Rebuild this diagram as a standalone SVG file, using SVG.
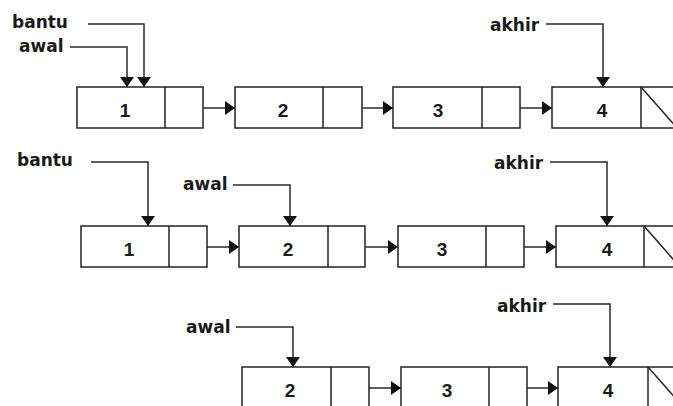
<svg xmlns="http://www.w3.org/2000/svg" width="673" height="406" viewBox="0 0 673 406">
  <style>
    .box { fill: #ffffff; stroke: #222222; stroke-width: 1.5; }
    .div { stroke: #222222; stroke-width: 1.5; fill: none; }
    .link { stroke: #2a2a2a; stroke-width: 1.5; fill: none; marker-end: url(#head); }
    .ptr { stroke: #2a2a2a; stroke-width: 1.5; fill: none; marker-end: url(#head); }
    .num { font-family: "Liberation Sans", Arial, sans-serif; font-weight: bold; font-size: 19px; fill: #1a1a1a; text-anchor: middle; }
    .lbl { font-family: "DejaVu Sans", Verdana, sans-serif; font-weight: bold; font-size: 17px; fill: #1a1a1a; }
  </style>
  <defs>
    <marker id="head" markerWidth="10" markerHeight="14" refX="10" refY="7" orient="auto" markerUnits="userSpaceOnUse">
      <path d="M0,0 L10,7 L0,14 Z" fill="#111111"/>
    </marker>
  </defs>
  <rect width="673" height="406" fill="#ffffff"/>

  <!-- row 1: bantu and awal both on node 1 -->
  <g id="r1-n1"><rect class="box" x="77" y="87" width="126" height="41"/><line class="div" x1="165" y1="87" x2="165" y2="128"/><text class="num" x="125" y="117">1</text></g>
  <g id="r1-n2"><rect class="box" x="235" y="87" width="127" height="41"/><line class="div" x1="323" y1="87" x2="323" y2="128"/><text class="num" x="283" y="117">2</text></g>
  <g id="r1-n3"><rect class="box" x="393" y="87" width="127" height="41"/><line class="div" x1="482" y1="87" x2="482" y2="128"/><text class="num" x="438" y="117">3</text></g>
  <g id="r1-n4"><rect class="box" x="552" y="87" width="127" height="41"/><line class="div" x1="641" y1="87" x2="641" y2="128"/><line class="div" x1="641" y1="87" x2="677" y2="128"/><text class="num" x="602" y="117">4</text></g>
  <g id="r1-labels">
    <text class="lbl" x="12" y="28">bantu</text>
    <text class="lbl" x="19" y="52">awal</text>
    <text class="lbl" x="490" y="31">akhir</text>
  </g>

  <!-- row 2: awal moved to node 2 -->
  <g id="r2-n1"><rect class="box" x="81" y="226" width="126" height="41"/><line class="div" x1="169" y1="226" x2="169" y2="267"/><text class="num" x="129" y="256">1</text></g>
  <g id="r2-n2"><rect class="box" x="239" y="226" width="126" height="41"/><line class="div" x1="328" y1="226" x2="328" y2="267"/><text class="num" x="288" y="256">2</text></g>
  <g id="r2-n3"><rect class="box" x="398" y="226" width="126" height="41"/><line class="div" x1="486" y1="226" x2="486" y2="267"/><text class="num" x="442" y="256">3</text></g>
  <g id="r2-n4"><rect class="box" x="556" y="226" width="127" height="41"/><line class="div" x1="644" y1="226" x2="644" y2="267"/><line class="div" x1="644" y1="226" x2="680" y2="267"/><text class="num" x="607" y="256">4</text></g>
  <g id="r2-labels">
    <text class="lbl" x="17" y="166">bantu</text>
    <text class="lbl" x="183" y="190">awal</text>
    <text class="lbl" x="494" y="169">akhir</text>
  </g>

  <!-- row 3: node 1 removed -->
  <g id="r3-n2"><rect class="box" x="242" y="367" width="127" height="41"/><line class="div" x1="331" y1="367" x2="331" y2="408"/><text class="num" x="290" y="397">2</text></g>
  <g id="r3-n3"><rect class="box" x="401" y="367" width="126" height="41"/><line class="div" x1="489" y1="367" x2="489" y2="408"/><text class="num" x="447" y="397">3</text></g>
  <g id="r3-n4"><rect class="box" x="558" y="367" width="127" height="41"/><line class="div" x1="648" y1="367" x2="648" y2="408"/><line class="div" x1="648" y1="367" x2="684" y2="408"/><text class="num" x="608" y="397">4</text></g>
  <g id="r3-labels">
    <text class="lbl" x="186" y="333">awal</text>
    <text class="lbl" x="497" y="312">akhir</text>
  </g>

  <g id="connectors">
    <!-- next links -->
    <line class="link" x1="203" y1="108" x2="235" y2="108"/>
    <line class="link" x1="362" y1="108" x2="393" y2="108"/>
    <line class="link" x1="520" y1="108" x2="552" y2="108"/>
    <line class="link" x1="207" y1="247" x2="239" y2="247"/>
    <line class="link" x1="365" y1="247" x2="398" y2="247"/>
    <line class="link" x1="524" y1="247" x2="556" y2="247"/>
    <line class="link" x1="369" y1="388" x2="401" y2="388"/>
    <line class="link" x1="527" y1="388" x2="558" y2="388"/>
    <!-- pointer variables -->
    <polyline class="ptr" points="88,24 144,24 144,87"/>
    <polyline class="ptr" points="70,47 127,47 127,87"/>
    <polyline class="ptr" points="546,24 603,24 603,87"/>
    <polyline class="ptr" points="91,162 148,162 148,226"/>
    <polyline class="ptr" points="233,185 290,185 290,226"/>
    <polyline class="ptr" points="550,162 607,162 607,226"/>
    <polyline class="ptr" points="236,327 293,327 293,367"/>
    <polyline class="ptr" points="553,304 610,304 610,367"/>
  </g>
</svg>
